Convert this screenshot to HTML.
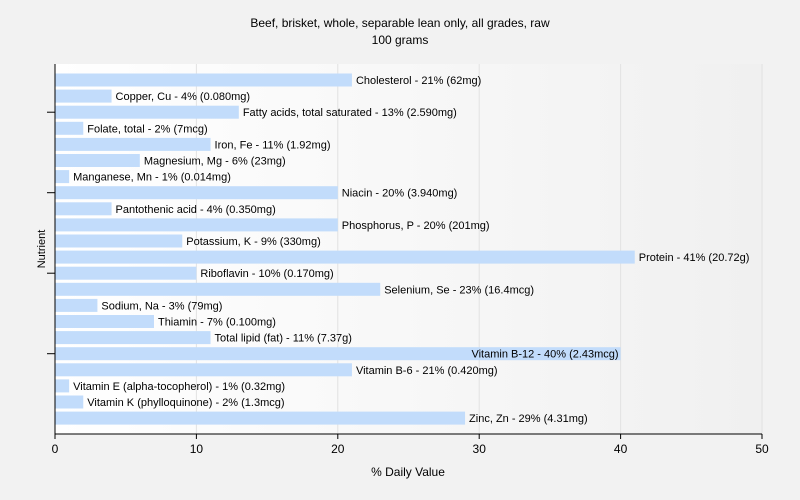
<!DOCTYPE html>
<html><head><meta charset="utf-8"><style>
body{margin:0;background:#f2f2f2;font-family:"Liberation Sans",sans-serif}
svg{display:block}
</style></head><body>
<svg width="800" height="500">
<defs><linearGradient id="bg" x1="0" x2="1" y1="0" y2="0"><stop offset="0" stop-color="#ffffff"/><stop offset="1" stop-color="#f0f0f0"/></linearGradient></defs>
<rect width="800" height="500" fill="#f2f2f2"/>
<text x="400" y="27" text-anchor="middle" font-size="12">Beef, brisket, whole, separable lean only, all grades, raw</text>
<text x="400" y="44" text-anchor="middle" font-size="12">100 grams</text>
<rect x="55" y="64" width="708" height="370" fill="url(#bg)"/>
<g id="grid"></g><g id="bars"></g><g id="axes"></g>
<text x="408" y="476" text-anchor="middle" font-size="12">% Daily Value</text>
<text transform="translate(45,249) rotate(-90)" text-anchor="middle" font-size="11">Nutrient</text>
</svg>
<script>
const categories=["Cholesterol","Copper, Cu","Fatty acids, total saturated","Folate, total","Iron, Fe","Magnesium, Mg","Manganese, Mn","Niacin","Pantothenic acid","Phosphorus, P","Potassium, K","Protein","Riboflavin","Selenium, Se","Sodium, Na","Thiamin","Total lipid (fat)","Vitamin B-12","Vitamin B-6","Vitamin E (alpha-tocopherol)","Vitamin K (phylloquinone)","Zinc, Zn"];
const values=[21,4,13,2,11,6,1,20,4,20,9,41,10,23,3,7,11,40,21,1,2,29];
const amounts=["62mg","0.080mg","2.590mg","7mcg","1.92mg","23mg","0.014mg","3.940mg","0.350mg","201mg","330mg","20.72g","0.170mg","16.4mcg","79mg","0.100mg","7.37g","2.43mcg","0.420mg","0.32mg","1.3mcg","4.31mg"];
const xTicks=[0,10,20,30,40,50];
const NS="http://www.w3.org/2000/svg";
const x0=55,x1=762,xMax=50,yTop=80,pitch=16.1,barH=13,yAxisBottom=434;
const xs=v=>x0+v*(x1-x0)/xMax;
const ys=i=>yTop+i*pitch;
function mk(tag,attrs,parent){const e=document.createElementNS(NS,tag);for(const k in attrs)e.setAttribute(k,attrs[k]);parent.appendChild(e);return e;}
const grid=document.getElementById('grid'),bars=document.getElementById('bars'),axes=document.getElementById('axes');
xTicks.forEach(t=>{
 if(t>0){const g=mk('line',{x1:xs(t),x2:xs(t),y1:64,y2:yAxisBottom,stroke:'#e2e2e2'},grid);
 
 }
 const tk=mk('line',{x1:xs(t),x2:xs(t),y1:yAxisBottom,y2:yAxisBottom+5,stroke:'#000'},axes);
 
 
 const lb=mk('text',{x:xs(t),y:yAxisBottom+19,'text-anchor':'middle','font-size':'12'},axes);
 lb.textContent=t;
 
 
});
categories.forEach((c,i)=>{
 const cy=ys(i);
 const r=mk('rect',{x:x0,y:cy-barH/2,width:xs(values[i])-x0,height:barH,fill:'#c2dcfb'},bars);
 
 
 const t=mk('text',{x:xs(values[i])+4,y:cy+4,'font-size':'11',fill:'#000'},bars);
 t.textContent=c+' - '+values[i]+'% ('+amounts[i]+')';
 
 
 if(xs(values[i])+4+t.getComputedTextLength()>x1){t.setAttribute('x',xs(values[i])-2);t.setAttribute('text-anchor','end');}
 if(i%5===2){const k=mk('line',{x1:x0-8,x2:x0,y1:cy,y2:cy,stroke:'#000'},axes);
 
 }
});
const ya=mk('line',{x1:x0,x2:x0,y1:64,y2:yAxisBottom,stroke:'#000'},axes);


const xa=mk('line',{x1:x0,x2:x1,y1:yAxisBottom,y2:yAxisBottom,stroke:'#000'},axes);


</script>
</body></html>
